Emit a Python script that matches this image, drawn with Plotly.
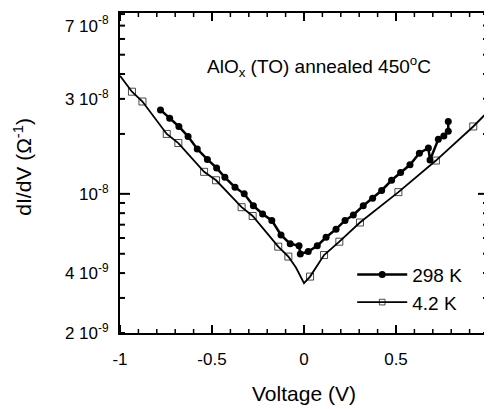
import math
import plotly.graph_objects as go

# ---- data ----
v_298 = [-0.78, -0.73, -0.68, -0.63, -0.58, -0.525, -0.475, -0.43, -0.375, -0.325,
         -0.275, -0.225, -0.175, -0.125, -0.075, -0.027, -0.02, 0.023, 0.072, 0.12,
         0.174, 0.223, 0.268, 0.322, 0.373, 0.422, 0.476, 0.525, 0.576, 0.627,
         0.676, 0.685, 0.73, 0.76, 0.784, 0.784]
g_298 = [2.64e-8, 2.40e-8, 2.18e-8, 1.94e-8, 1.68e-8, 1.49e-8, 1.35e-8, 1.21e-8, 1.08e-8, 1.00e-8,
         8.71e-9, 7.92e-9, 7.35e-9, 6.22e-9, 5.61e-9, 5.48e-9, 4.99e-9, 5.13e-9, 5.48e-9, 6.05e-9,
         6.65e-9, 7.35e-9, 7.83e-9, 8.71e-9, 9.51e-9, 1.04e-8, 1.17e-8, 1.28e-8, 1.40e-8, 1.60e-8,
         1.70e-8, 1.48e-8, 1.88e-8, 1.95e-8, 2.06e-8, 2.31e-8]

v_42 = [-1.0, -0.935, -0.878, -0.746, -0.683, -0.543, -0.478, -0.339, -0.279, -0.14,
        -0.085, -0.043, 0.0, 0.033, 0.109, 0.192, 0.304, 0.513, 0.717, 0.92, 1.0]
g_42 = [3.92e-8, 3.26e-8, 2.91e-8, 2.00e-8, 1.80e-8, 1.29e-8, 1.17e-8, 8.57e-9, 7.74e-9, 5.43e-9,
        4.84e-9, 4.25e-9, 3.56e-9, 3.84e-9, 4.93e-9, 5.75e-9, 7.18e-9, 1.02e-8, 1.47e-8, 2.18e-8, 2.59e-8]
# voltages of the 4.2 K points that carry an open square
v_42_sq = [-0.935, -0.878, -0.746, -0.683, -0.543, -0.478, -0.339, -0.279, -0.14, -0.085,
           0.033, 0.109, 0.192, 0.304, 0.513, 0.717, 0.92]

y_tick_vals = [2e-9, 4e-9, 1e-8, 3e-8, 7e-8]
y_tick_text = ["2 10<sup>-9</sup>", "4 10<sup>-9</sup>", "10<sup>-8</sup>",
               "3 10<sup>-8</sup>", "7 10<sup>-8</sup>"]
y_small_ticks = [2e-9, 3e-9, 4e-9, 5e-9, 6e-9, 7e-9, 8e-9, 9e-9,
                 2e-8, 3e-8, 4e-8, 5e-8, 6e-8, 7e-8, 8e-8]
y_decade_ticks = [1e-8]
x_tick_vals = [-1, -0.5, 0, 0.5, 1]
x_tick_text = ["-1", "-0.5", "0", "0.5", "1"]
x_minor_ticks = [-0.9, -0.8, -0.7, -0.6, -0.4, -0.3, -0.2, -0.1,
                 0.1, 0.2, 0.3, 0.4, 0.6, 0.7, 0.8, 0.9]

FONT = "Liberation Sans, Arial, Helvetica, sans-serif"
X_RANGE = [-1, 1]
Y_RANGE = [math.log10(2e-9), math.log10(8.1e-8)]
PLOT_W, PLOT_H = 368, 320

sq_sizes = [7 if v in v_42_sq else 0 for v in v_42]

fig = go.Figure()
fig.add_trace(go.Scatter(x=v_298, y=g_298, mode="lines+markers", name="298 K",
                         line=dict(color="black", width=2.5),
                         marker=dict(symbol="circle", size=7, color="black")))
fig.add_trace(go.Scatter(x=v_42, y=g_42, mode="lines+markers", name="4.2 K",
                         line=dict(color="black", width=1.8),
                         marker=dict(symbol="square-open", size=sq_sizes, color="black",
                                     line=dict(width=1))))


# inward tick marks on all four sides (paper coordinates derived from the tick values)
def x_paper(v):
    return (v - X_RANGE[0]) / (X_RANGE[1] - X_RANGE[0])


def y_paper(v):
    return (math.log10(v) - Y_RANGE[0]) / (Y_RANGE[1] - Y_RANGE[0])


tick_shapes = []
for vals, length, width in [(x_tick_vals, 8, 2), (x_minor_ticks, 4, 1.5)]:
    h = length / PLOT_H
    for v in vals:
        p = x_paper(v)
        for a, b in [(0, h), (1 - h, 1)]:
            tick_shapes.append(dict(type="line", xref="paper", yref="paper",
                                    x0=p, x1=p, y0=a, y1=b,
                                    line=dict(color="black", width=width)))
for vals, length, width in [(y_small_ticks, 5, 2), (y_decade_ticks, 10, 2)]:
    w = length / PLOT_W
    for v in vals:
        p = y_paper(v)
        for a, b in [(0, w), (1 - w, 1)]:
            tick_shapes.append(dict(type="line", xref="paper", yref="paper",
                                    x0=a, x1=b, y0=p, y1=p,
                                    line=dict(color="black", width=width)))

fig.update_layout(
    width=484, height=401,
    margin=dict(l=112, r=4, t=5, b=76),
    paper_bgcolor="white", plot_bgcolor="white",
    font=dict(family=FONT, color="black", size=17),
    xaxis=dict(range=X_RANGE, tickmode="array", tickvals=x_tick_vals, ticktext=x_tick_text,
               ticks="outside", ticklen=10, tickcolor="rgba(0,0,0,0)",
               showline=True, linewidth=2, linecolor="black", mirror=True,
               showgrid=False, zeroline=False, automargin=False),
    yaxis=dict(type="log", range=Y_RANGE, tickmode="array", tickvals=y_tick_vals,
               ticktext=y_tick_text, ticks="outside", ticklen=6, tickcolor="rgba(0,0,0,0)",
               showline=True, linewidth=2, linecolor="black", mirror=True,
               showgrid=False, zeroline=False, automargin=False),
    shapes=tick_shapes,
    legend=dict(x=0.631, y=0.242, xanchor="left", yanchor="top", itemwidth=50,
                bgcolor="rgba(0,0,0,0)", font=dict(size=19), tracegroupgap=0),
    annotations=[
        dict(text="AlO<sub>x</sub> (TO) annealed 450<sup>o</sup>C",
             xref="paper", yref="paper", x=0.541, y=0.834,
             xanchor="center", yanchor="middle", showarrow=False, font=dict(size=19)),
        dict(text="Voltage (V)", xref="paper", yref="paper", x=0.5, y=-0.19,
             xanchor="center", yanchor="middle", showarrow=False, font=dict(size=21)),
        dict(text="dI/dV (\u03a9<sup>-1</sup>)", xref="paper", yref="paper", x=-0.266, y=0.52,
             xanchor="center", yanchor="middle", textangle=-90, showarrow=False,
             font=dict(size=21)),
    ],
)

fig.write_html("out.html")
